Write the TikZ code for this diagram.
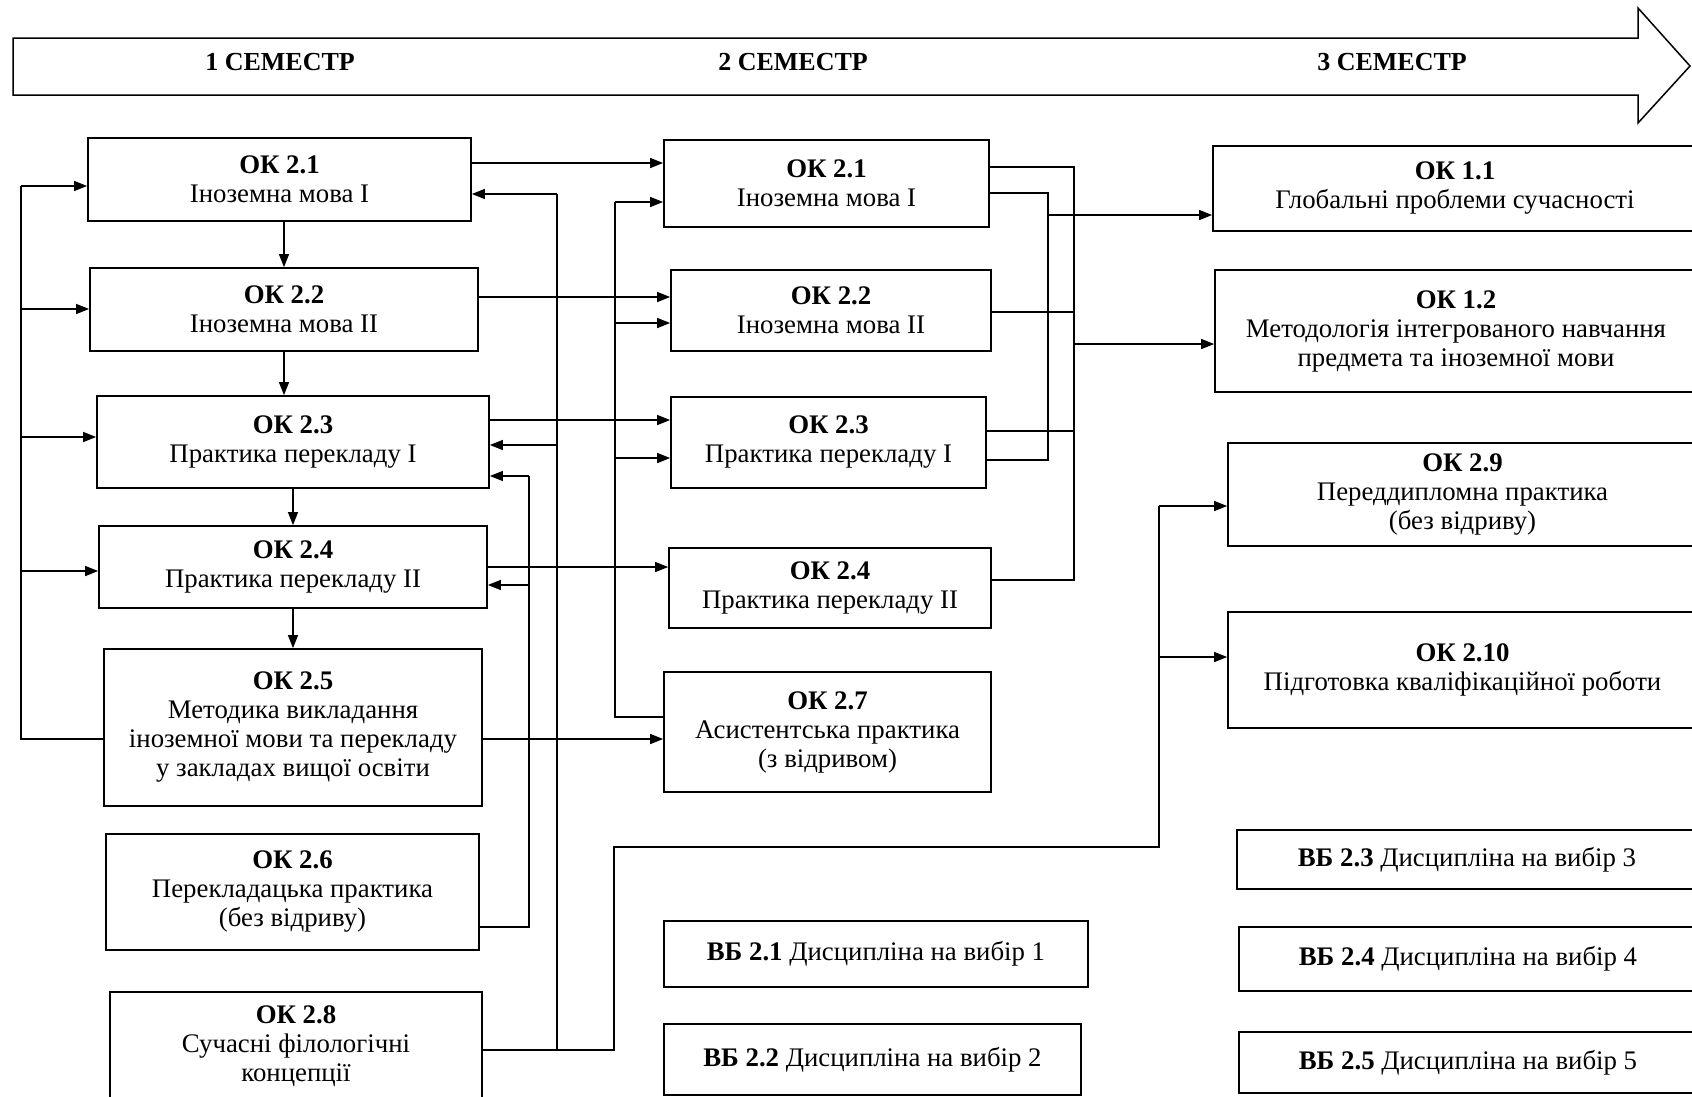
\documentclass[tikz,border=0pt]{standalone}
\usepackage{fontspec}
\setmainfont{Liberation Serif}
\usetikzlibrary{arrows.meta}

\begin{document}
\begin{tikzpicture}[x=1pt, y=-1pt, line width=1.3pt,
    font=\fontsize{26.8}{29}\selectfont,
    box/.style={draw, line width=1.7pt, align=center, inner sep=2pt},
    sz/.style 2 args={minimum width=#1pt, minimum height=#2pt},
    sem/.style={font=\fontsize{26}{29}\selectfont\bfseries},
    link/.style={-{Triangle[length=13pt,width=10pt]}}]
\useasboundingbox (0,0) rectangle (1692,1096);

% Semester arrow
\draw[line width=1.5pt] (13,38) -- (1638,38) -- (1638,8) -- (1690,66) -- (1638,123) -- (1638,95) -- (13,95) -- cycle;
\node[sem] (sem1) at (280,62) {1 СЕМЕСТР};
\node[sem] (sem2) at (793,62) {2 СЕМЕСТР};
\node[sem] (sem3) at (1392,62) {3 СЕМЕСТР};

% Semester 1
\node[box, sz={383}{83}] (l21) at (279.5,179.5) {\textbf{ОК 2.1}\\Іноземна мова I};
\node[box, sz={388}{83}] (l22) at (284,309.5) {\textbf{ОК 2.2}\\Іноземна мова II};
\node[box, sz={392}{92}] (l23) at (293,442) {\textbf{ОК 2.3}\\Практика перекладу I};
\node[box, sz={388}{82}] (l24) at (293,567) {\textbf{ОК 2.4}\\Практика перекладу II};
\node[box, sz={378}{157}] (l25) at (293,727.5) {\textbf{ОК 2.5}\\Методика викладання\\іноземної мови та перекладу\\у закладах вищої освіти};
\node[box, sz={373}{116}] (l26) at (292.5,892) {\textbf{ОК 2.6}\\Перекладацька практика\\(без відриву)};
\node[box, sz={372}{108}] (l28) at (296,1046) {\textbf{ОК 2.8}\\Сучасні філологічні\\концепції};

% Semester 2
\node[box, sz={325}{87}] (m21) at (826.5,183.5) {\textbf{ОК 2.1}\\Іноземна мова I};
\node[box, sz={320}{81}] (m22) at (831,310.5) {\textbf{ОК 2.2}\\Іноземна мова II};
\node[box, sz={315}{91}] (m23) at (828.5,442.5) {\textbf{ОК 2.3}\\Практика перекладу I};
\node[box, sz={322}{80}] (m24) at (830,588) {\textbf{ОК 2.4}\\Практика перекладу II};
\node[box, sz={327}{120}] (m27) at (827.5,732) {\textbf{ОК 2.7}\\Асистентська практика\\(з відривом)};
\node[box, sz={424}{66}] (v21) at (876,954) {\textbf{ВБ 2.1} Дисципліна на вибір 1};
\node[box, sz={417}{71}] (v22) at (872.5,1059.5) {\textbf{ВБ 2.2} Дисципліна на вибір 2};

% Semester 3
\node[box, sz={484}{85}] (r11) at (1455,188.5) {\textbf{ОК 1.1}\\Глобальні проблеми сучасності};
\node[box, sz={482}{122}] (r12) at (1456,331) {\textbf{ОК 1.2}\\Методологія інтегрованого навчання\\предмета та іноземної мови};
\node[box, sz={469}{103}] (r29) at (1462.5,494.5) {\textbf{ОК 2.9}\\Переддипломна практика\\(без відриву)};
\node[box, sz={469}{116}] (r210) at (1462.5,670) {\textbf{ОК 2.10}\\Підготовка кваліфікаційної роботи};
\node[box, sz={460}{59}] (v23) at (1467,859.5) {\textbf{ВБ 2.3} Дисципліна на вибір 3};
\node[box, sz={458}{64}] (v24) at (1468,959) {\textbf{ВБ 2.4} Дисципліна на вибір 4};
\node[box, sz={458}{61}] (v25) at (1468,1062.5) {\textbf{ВБ 2.5} Дисципліна на вибір 5};

% Bus corners
\coordinate (bL1) at (21,186);
\coordinate (bL2) at (21,309);
\coordinate (bL3) at (21,437);
\coordinate (bL4) at (21,571);
\coordinate (bL5) at (21,739);
\coordinate (bE1) at (529,476);
\coordinate (bE2) at (529,585);
\coordinate (bE3) at (529,927);
\coordinate (bF1) at (557,194);
\coordinate (bF2) at (557,445);
\coordinate (bF3) at (557,1050);
\coordinate (bG1) at (614,1050);
\coordinate (bG2) at (614,847);
\coordinate (bH1) at (1159,847);
\coordinate (bH2) at (1159,506);
\coordinate (bH3) at (1159,657);
\coordinate (bM1) at (615,202);
\coordinate (bM2) at (615,323);
\coordinate (bM3) at (615,458);
\coordinate (bM4) at (615,717);
\coordinate (bR1) at (1048,193);
\coordinate (bR2) at (1048,215);
\coordinate (bR3) at (1048,460);
\coordinate (bS1) at (1074,167);
\coordinate (bS2) at (1074,312);
\coordinate (bS3) at (1074,431);
\coordinate (bS4) at (1074,580);
\coordinate (bS5) at (1074,344);

% Semester 1 chain
\draw[link] (l22.north |- l21.south) -- (l22.north);
\draw[link] (l22.south) -- (l22.south |- l23.north);
\draw[link] (l23.south) -- (l23.south |- l24.north);
\draw[link] (l24.south) -- (l24.south |- l25.north);

% Back from OK 2.5
\draw (l25.west |- bL5) -- (bL5) -- (bL1);
\draw[link] (bL1) -- (bL1 -| l21.west);
\draw[link] (bL2) -- (bL2 -| l22.west);
\draw[link] (bL3) -- (bL3 -| l23.west);
\draw[link] (bL4) -- (bL4 -| l24.west);

% OK 2.6 and OK 2.8
\draw (l26.east |- bE3) -- (bE3) -- (bE1);
\draw[link] (bE1) -- (bE1 -| l23.east);
\draw[link] (bE2) -- (bE2 -| l24.east);
\draw (l28.east |- bF3) -- (bG1) -- (bG2) -- (bH1) -- (bH2);
\draw (bF3) -- (bF1);
\draw[link] (bF1) -- (bF1 -| l21.east);
\draw[link] (bF2) -- (bF2 -| l23.east);
\draw[link] (bH2) -- (bH2 -| r29.west);
\draw[link] (bH3) -- (bH3 -| r210.west);

% Semester 1 to 2
\draw[link] (l21.east |- 0,163) -- (m21.west |- 0,163);
\draw[link] (l22.east |- 0,297) -- (m22.west |- 0,297);
\draw[link] (l23.east |- 0,420) -- (m23.west |- 0,420);
\draw[link] (l24.east |- 0,567) -- (m24.west |- 0,567);
\draw[link] (l25.east |- 0,739) -- (m27.west |- 0,739);

% Back from OK 2.7
\draw (m27.west |- bM4) -- (bM4) -- (bM1);
\draw[link] (bM1) -- (bM1 -| m21.west);
\draw[link] (bM2) -- (bM2 -| m22.west);
\draw[link] (bM3) -- (bM3 -| m23.west);

% Semester 2 to 3
\draw (m21.east |- bR1) -- (bR1) -- (bR3) -- (m23.east |- bR3);
\draw[link] (bR2) -- (bR2 -| r11.west);
\draw (m21.east |- bS1) -- (bS1) -- (bS4) -- (m24.east |- bS4);
\draw (m22.east |- bS2) -- (bS2);
\draw (m23.east |- bS3) -- (bS3);
\draw[link] (bS5) -- (bS5 -| r12.west);
\end{tikzpicture}
\end{document}
